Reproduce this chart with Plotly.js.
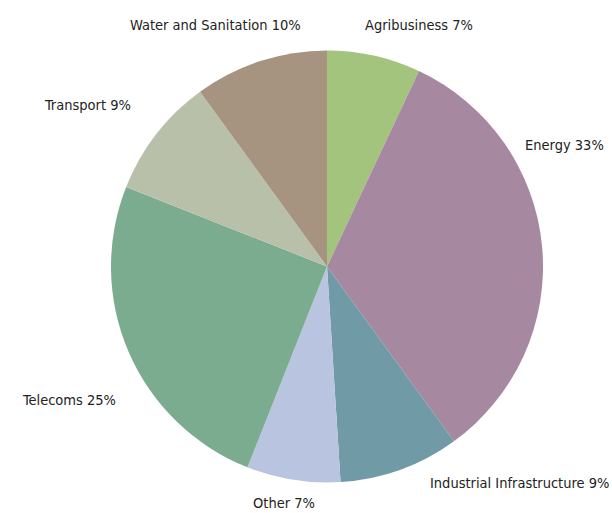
<!DOCTYPE html>
<html>
<head>
<meta charset="utf-8">
<script src="https://cdn.plot.ly/plotly-3.0.1.min.js"></script>
<style>html,body{margin:0;padding:0;background:#fff;}#chart{width:612px;height:513px;}</style>
</head>
<body>
<div id="chart"></div>
<script>
const categories = ["Agribusiness", "Energy", "Industrial Infrastructure", "Other", "Telecoms", "Transport", "Water and Sanitation"];
const shares = [7, 33, 9, 7, 25, 9, 10];
const colors = ["#a3c47c", "#a688a0", "#709aa5", "#b8c4e0", "#7cac90", "#b8c0aa", "#a69480"];
// label anchor positions (left edge x, middle y) in pixels
const labelX = [363, 523, 428, 251, 20, 42, 128];
const labelY = [25, 145, 483, 503, 400, 105, 25];

const W = 612, H = 513;
const cx = 327, cy = 266.5, r = 216;

const annotations = categories.map((c, i) => ({
  text: c + " " + shares[i] + "%",
  x: labelX[i] / W, y: 1 - labelY[i] / H,
  xref: "paper", yref: "paper",
  xanchor: "left", yanchor: "middle",
  showarrow: false,
  font: {family: "DejaVu Sans Condensed, Liberation Sans Narrow, sans-serif", size: 14.5, color: "#222"}
}));

Plotly.newPlot("chart", [{
  type: "pie",
  labels: categories,
  values: shares,
  sort: false,
  direction: "clockwise",
  rotation: 0,
  marker: {colors: colors, line: {width: 0}},
  textinfo: "none",
  hoverinfo: "label+percent",
  domain: {x: [(cx - r) / W, (cx + r) / W], y: [1 - (cy + r) / H, 1 - (cy - r) / H]}
}], {
  width: W, height: H,
  margin: {l: 0, r: 0, t: 0, b: 0},
  paper_bgcolor: "#fff",
  showlegend: false,
  annotations: annotations
}, {displayModeBar: false, staticPlot: true});
</script>
</body>
</html>
